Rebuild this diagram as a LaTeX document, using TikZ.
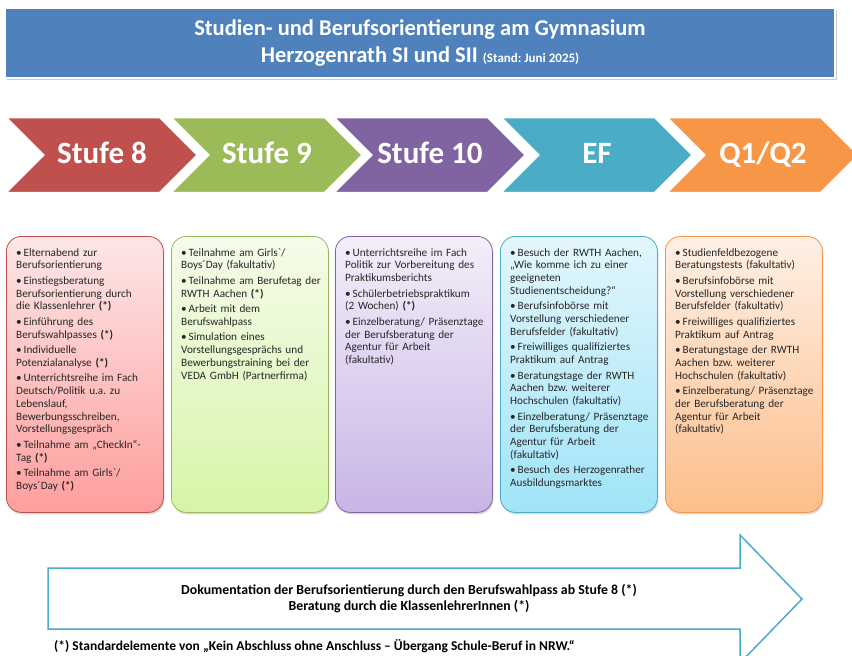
\documentclass[tikz,border=0pt]{standalone}
\usepackage{fontspec}
\setmainfont{Carlito}
\usepackage{tikz}
\usetikzlibrary{shadows}
\frenchspacing
\definecolor{titelblau}{HTML}{4F81BD}
\definecolor{rotS}{HTML}{C0504D}
\definecolor{gruenS}{HTML}{9BBB59}
\definecolor{lilaS}{HTML}{8064A2}
\definecolor{tuerkisS}{HTML}{4BACC6}
\definecolor{orangeS}{HTML}{F79646}
\definecolor{rotOben}{HTML}{FDE6E6}
\definecolor{rotUnten}{HTML}{FF9E9E}
\definecolor{gruenOben}{HTML}{F5FBEA}
\definecolor{gruenUnten}{HTML}{D6F5A8}
\definecolor{lilaOben}{HTML}{F3EEF9}
\definecolor{lilaUnten}{HTML}{C9B5E6}
\definecolor{tuerkisOben}{HTML}{E3F6FC}
\definecolor{tuerkisUnten}{HTML}{A0E4F8}
\definecolor{orangeOben}{HTML}{FEF0E5}
\definecolor{orangeUnten}{HTML}{FDBE8B}
\tikzstyle{titlebox}=[fill=titelblau,draw=white,line width=2pt,text=white,align=center,
  minimum width=830pt,minimum height=70pt,font=\fontsize{22.5}{27}\selectfont\bfseries,
  drop shadow={opacity=0.4,shadow xshift=2pt,shadow yshift=-2pt}]
\tikzstyle{stage}=[draw=white,line width=2.5pt]
\tikzstyle{stagelabel}=[text=white,font=\fontsize{31}{33}\selectfont\bfseries,
  text height=21pt,text depth=5pt]
\tikzstyle{infobox}=[rounded corners=15pt,line width=0.8pt,anchor=north west,
  minimum width=157pt,minimum height=276pt,
  drop shadow={opacity=0.3,shadow xshift=1pt,shadow yshift=-2pt}]
\tikzstyle{infotext}=[anchor=north west,inner sep=0pt,text width=160pt,align=left,
  font=\fontsize{11.2}{12.8}\selectfont,text=black!85]
\tikzstyle{bigarrow}=[draw=tuerkisS,line width=1.5pt,fill=white]
\newcommand{\punkt}[1]{\par\hangindent=7.5pt\hangafter=1\noindent\makebox[7.5pt][l]{•}#1\par\vspace{2.6pt}}

\begin{document}
\begin{tikzpicture}[x=1pt,y=-1pt]
    \useasboundingbox (0,0) rectangle (852,656);
    % Title bar
    \node[titlebox] (titel) at (420,43)
      {Studien- und Berufsorientierung am Gymnasium\\
       Herzogenrath SI und SII {\fontsize{13}{13}\selectfont (Stand: Juni 2025)}};
    % First we draw the stages
    \foreach \x/\farbe/\name/\titel in {5/rotS/s8/Stufe 8, 170/gruenS/s9/Stufe 9,
        333/lilaS/s10/Stufe 10, 500/tuerkisS/ef/EF, 666/orangeS/q/{Q1/Q2}}
    {
        \draw[stage,fill=\farbe] (\x,117) -- ++(155,0) -- ++(38,38) -- ++(-38,38)
            -- ++(-155,0) -- ++(38,-38) -- cycle;
        \node[stagelabel] (\name) at (\x+97,155) {\titel};
    }
    % Boxes below the stages
    \foreach \x/\farbe/\name in {6/rot/b8, 171/gruen/b9, 335/lila/b10, 500/tuerkis/bef, 665/orange/bq}
        \node[infobox,draw=\farbe S,top color=\farbe Oben,bottom color=\farbe Unten] (\name) at (\x,236) {};
    % Texts of the boxes
    \node[infotext] (t8) at ([shift={(10,7)}]b8.north west) {%
      \punkt{Elternabend zur\\Berufsorientierung}
      \punkt{Einstiegsberatung\\Berufsorientierung durch\\die Klassenlehrer \textbf{(*)}}
      \punkt{Einführung des\\Berufswahlpasses \textbf{(*)}}
      \punkt{Individuelle\\Potenzialanalyse \textbf{(*)}}
      \punkt{Unterrichtsreihe im Fach\\Deutsch/Politik u.a. zu\\Lebenslauf,\\Bewerbungsschreiben,\\Vorstellungsgespräch}
      \punkt{Teilnahme am „CheckIn“-\\Tag \textbf{(*)}}
      \punkt{Teilnahme am Girls\textasciigrave/\\Boys´Day \textbf{(*)}}};
    \node[infotext] (t9) at ([shift={(10,7)}]b9.north west) {%
      \punkt{Teilnahme am Girls\textasciigrave/\\Boys´Day (fakultativ)}
      \punkt{Teilnahme am Berufetag der\\RWTH Aachen \textbf{(*)}}
      \punkt{Arbeit mit dem\\Berufswahlpass}
      \punkt{Simulation eines\\Vorstellungsgesprächs und\\Bewerbungstraining bei der\\VEDA GmbH (Partnerfirma)}};
    \node[infotext] (t10) at ([shift={(10,7)}]b10.north west) {%
      \punkt{Unterrichtsreihe im Fach\\Politik zur Vorbereitung des\\Praktikumsberichts}
      \punkt{Schülerbetriebspraktikum\\(2 Wochen) \textbf{(*)}}
      \punkt{Einzelberatung/ Präsenztage\\der Berufsberatung der\\Agentur für Arbeit\\(fakultativ)}};
    \node[infotext] (tef) at ([shift={(10,7)}]bef.north west) {%
      \punkt{Besuch der RWTH Aachen,\\„Wie komme ich zu einer\\geeigneten\\Studienentscheidung?“}
      \punkt{Berufsinfobörse mit\\Vorstellung verschiedener\\Berufsfelder (fakultativ)}
      \punkt{Freiwilliges qualifiziertes\\Praktikum auf Antrag}
      \punkt{Beratungstage der RWTH\\Aachen bzw. weiterer\\Hochschulen (fakultativ)}
      \punkt{Einzelberatung/ Präsenztage\\der Berufsberatung der\\Agentur für Arbeit\\(fakultativ)}
      \punkt{Besuch des Herzogenrather\\Ausbildungsmarktes}};
    \node[infotext] (tq) at ([shift={(10,7)}]bq.north west) {%
      \punkt{Studienfeldbezogene\\Beratungstests (fakultativ)}
      \punkt{Berufsinfobörse mit\\Vorstellung verschiedener\\Berufsfelder (fakultativ)}
      \punkt{Freiwilliges qualifiziertes\\Praktikum auf Antrag}
      \punkt{Beratungstage der RWTH\\Aachen bzw. weiterer\\Hochschulen (fakultativ)}
      \punkt{Einzelberatung/ Präsenztage\\der Berufsberatung der\\Agentur für Arbeit\\(fakultativ)}};
    % Big arrow at the bottom
    \draw[bigarrow] (48,568) -- (740,568) -- (740,535) -- (802,599) -- (740,663)
        -- (740,629) -- (48,629) -- cycle;
    \node[align=center,font=\fontsize{13.8}{16}\selectfont\bfseries] (doku) at (409,599)
      {Dokumentation der Berufsorientierung durch den Berufswahlpass ab Stufe 8 (*)\\
       Beratung durch die KlassenlehrerInnen (*)};
    \node[anchor=west,inner sep=0pt,font=\fontsize{13.5}{14}\selectfont\bfseries] (fussnote) at (54,646)
      {(*) Standardelemente von „Kein Abschluss ohne Anschluss – Übergang Schule-Beruf in NRW.“};
\end{tikzpicture}
\end{document}
